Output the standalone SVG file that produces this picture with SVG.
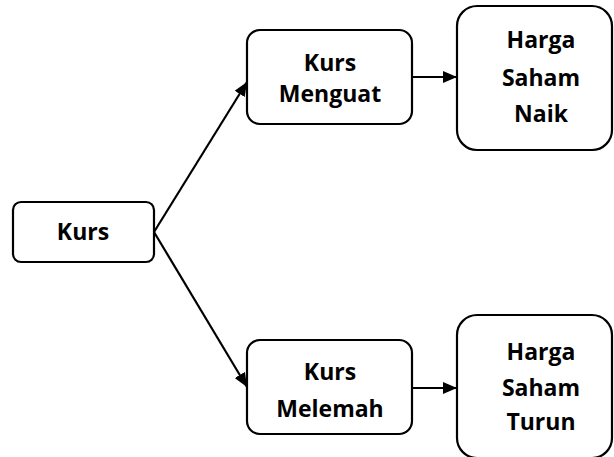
<svg xmlns="http://www.w3.org/2000/svg" width="614" height="457" viewBox="0 0 614 457">
<style>
.box{fill:#fff;stroke:#000;stroke-width:2.2}
.t{font-family:"Open Sans","Noto Sans","Liberation Sans",sans-serif;font-weight:700;font-size:23px;fill:#000;text-anchor:middle}
.c{stroke:#000;stroke-width:2.2;fill:none;marker-end:url(#ah)}
</style>
<defs>
<marker id="ah" viewBox="0 0 14 12" refX="14" refY="6" markerWidth="14" markerHeight="12" markerUnits="userSpaceOnUse" orient="auto">
<path d="M0,0 L14,6 L0,12 z" fill="#000"/>
</marker>
</defs>
<rect width="614" height="457" fill="#fff"/>
<g id="connectors">
<line class="c" x1="154" y1="232" x2="247" y2="82"/>
<line class="c" x1="154" y1="232" x2="247" y2="387"/>
<line class="c" x1="412" y1="77" x2="457" y2="77"/>
<line class="c" x1="412" y1="388" x2="457" y2="388"/>
</g>
<g id="kurs">
<rect class="box" x="13" y="202" width="141" height="60" rx="8"/>
<text class="t" x="83" y="240">Kurs</text>
</g>
<g id="kurs-menguat">
<rect class="box" x="247" y="30" width="165" height="94" rx="13"/>
<text class="t" x="330" y="71">Kurs</text>
<text class="t" x="330" y="102">Menguat</text>
</g>
<g id="harga-saham-naik">
<rect class="box" x="457" y="6" width="155" height="144" rx="20"/>
<text class="t" x="541" y="48">Harga</text>
<text class="t" x="541" y="86">Saham</text>
<text class="t" x="541" y="122">Naik</text>
</g>
<g id="kurs-melemah">
<rect class="box" x="247" y="340" width="165" height="94" rx="13"/>
<text class="t" x="330" y="380">Kurs</text>
<text class="t" x="330" y="417">Melemah</text>
</g>
<g id="harga-saham-turun">
<rect class="box" x="457" y="315" width="155" height="143" rx="20"/>
<text class="t" x="541" y="360">Harga</text>
<text class="t" x="541" y="396">Saham</text>
<text class="t" x="541" y="430">Turun</text>
</g>
</svg>
